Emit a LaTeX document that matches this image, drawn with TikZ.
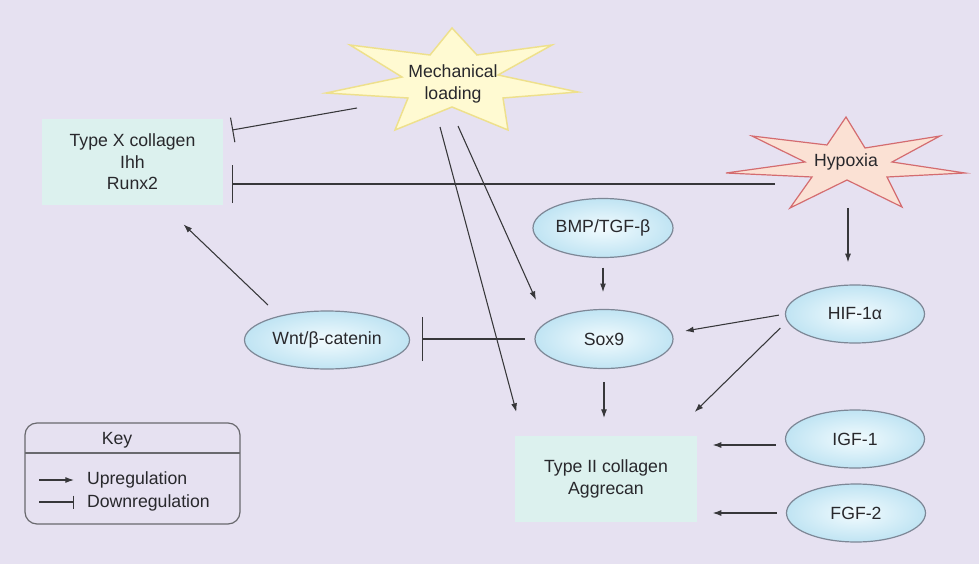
\documentclass[tikz,border=0pt]{standalone}
\usepackage{fontspec}
\setmainfont{Liberation Sans}
\usetikzlibrary{arrows.meta,shapes.geometric}

\definecolor{bgLav}{RGB}{230,225,241}
\definecolor{boxMint}{RGB}{220,241,238}
\definecolor{lineGray}{RGB}{55,55,58}
\definecolor{txtGray}{RGB}{40,40,44}
\definecolor{ellEdge}{RGB}{125,135,150}
\definecolor{ellIn}{RGB}{242,251,254}
\definecolor{ellOut}{RGB}{192,228,243}

\tikzset{every picture/.style={line width=0.75pt}}
\tikzset{
  txt/.style={inner sep=0.75pt, outer sep=0pt, text=txtGray, align=center,
    font=\fontsize{13.25}{16}\selectfont},
  genebox/.style={txt, rectangle, fill=boxMint, minimum width=136pt, minimum height=65pt},
  gene/.style={txt, ellipse, draw=ellEdge, line width=0.9pt, inner color=ellIn, outer color=ellOut,
    minimum width=104.25pt, minimum height=43.5pt, inner sep=0pt},
  mechstar/.style={draw={rgb,255:red,238;green,224;blue,140}, fill={rgb,255:red,255;green,250;blue,210},
    line width=1.1pt, line join=miter},
  hypstar/.style={draw={rgb,255:red,212;green,108;blue,112}, fill={rgb,255:red,251;green,225;blue,212},
    line width=0.9pt, line join=miter},
  upreg/.style={draw=lineGray, line width=0.8pt, -{Latex[length=6.5pt,width=4.5pt]}},
  downreg/.style={draw=lineGray, line width=0.8pt, -{Bar[width=#1]}},
}

\begin{document}
\begin{tikzpicture}[x=0.75pt,y=0.75pt,yscale=-1,xscale=1]
%Background
\fill[bgLav] (0,0) rectangle (979,564);
\useasboundingbox (0,0) rectangle (979,564);

%Shape: Star [id:mechanical]
\draw[mechstar] (452,28) -- (477,55) -- (552,45) -- (498,75) -- (578,92) -- (503,98) -- (508,130) -- (452,107) -- (395,130) -- (408,98) -- (326,93) -- (402,77) -- (350,45) -- (430,55) -- cycle;
%Shape: Star [id:hypoxia]
\draw[hypstar] (846,117) -- (865,148) -- (940,136) -- (892,162) -- (965,173) -- (887,177) -- (902,207) -- (847,180) -- (790,208) -- (812,177) -- (726,173) -- (805,162) -- (752,136) -- (827,145) -- cycle;

% Text Node
\node[txt] (mech) at (453,84) {Mechanical\\loading};
% Text Node
\node[txt] (hyp) at (846,162) {Hypoxia};
\coordinate (mechW) at (357,108);
\coordinate (mechS1) at (440,127);
\coordinate (mechS2) at (458,126);
\coordinate (hypW) at (775,184);
\coordinate (hypS) at (848,208);

%Shape: Rectangle
\node[genebox] (typeX) at (132.5,162) {Type X collagen\\Ihh\\Runx2};
%Shape: Rectangle
\node[genebox, minimum height=64.5pt] (typeII) at (606,479) {Type II collagen\\Aggrecan};

%Shape: Ellipse
\node[gene, minimum width=105pt, minimum height=44.25pt] (bmp) at (603,228) {BMP/TGF-β};
\node[gene, minimum width=103.5pt, minimum height=44.25pt] (sox) at (604,339) {Sox9};
\node[gene, minimum width=123.75pt] (wnt) at (327,340) {Wnt/β-catenin};
\node[gene] (hif) at (855,314) {HIF-1α};
\node[gene] (igf) at (855,439) {IGF-1};
\node[gene] (fgf) at (856,513) {FGF-2};

%Straight Lines (shifts follow the flipped y axis)
\draw[downreg=18.75pt] (mechW) -- ([xshift=6.75pt,yshift=-24pt]typeX.east);
\draw[downreg=28.5pt] (hypW) -- ([xshift=6.75pt]typeX.east |- hypW);
\draw[downreg=33pt, shorten <=7.5pt, shorten >=9pt] (sox.west) -- (sox.west -| wnt.east);
\draw[upreg] ([shift={(-44.25pt,-26.25pt)}]wnt.center) -- ([xshift=38.25pt,yshift=14.25pt]typeX.south);
\draw[upreg] (mechS2) -- ([shift={(-51pt,-29.25pt)}]sox.center);
\draw[upreg] (mechS1) -- ([xshift=0.75pt,yshift=-18pt]typeII.north west);
\draw[upreg, shorten <=7.5pt, shorten >=13pt] (bmp.south) -- (bmp.south |- sox.north);
\draw[upreg, shorten <=10pt, shorten >=13.5pt] (sox.south) -- (sox.south |- typeII.north);
\draw[upreg, shorten >=17pt] (hypS) -- (hypS |- hif.north);
\draw[upreg, shorten <=5pt] (hif.west) -- ([shift={(9pt,-6pt)}]sox.east);
\draw[upreg] ([shift={(-56pt,10.5pt)}]hif.center) -- ([shift={(-1.5pt,-18pt)}]typeII.north east);
\draw[upreg, shorten <=7.5pt, shorten >=12pt] ([yshift=4.5pt]igf.west) -- ([yshift=4.5pt]igf.west -| typeII.east);
\draw[upreg, shorten <=7.5pt, shorten >=12pt] (fgf.west) -- (fgf.west -| typeII.east);

%Key
\draw[draw={rgb,255:red,105;green,105;blue,110}, line width=0.9pt, rounded corners=9pt] (25,423) rectangle (240,524);
\draw[draw={rgb,255:red,105;green,105;blue,110}, line width=0.9pt] (25,453) -- (240,453);
\node[txt] (keyTitle) at (117,440) {Key};
\node[txt, anchor=west] (upLbl) at (86,480) {Upregulation};
\node[txt, anchor=west] (downLbl) at (86,503) {Downregulation};
\coordinate (upStart) at (39,480);
\coordinate (downStart) at (39,502);
\draw[upreg] (upStart) -- ([xshift=-9pt]upLbl.west |- upStart);
\draw[downreg=9.75pt] (downStart) -- ([xshift=-9pt]downLbl.west |- downStart);

\end{tikzpicture}
\end{document}
